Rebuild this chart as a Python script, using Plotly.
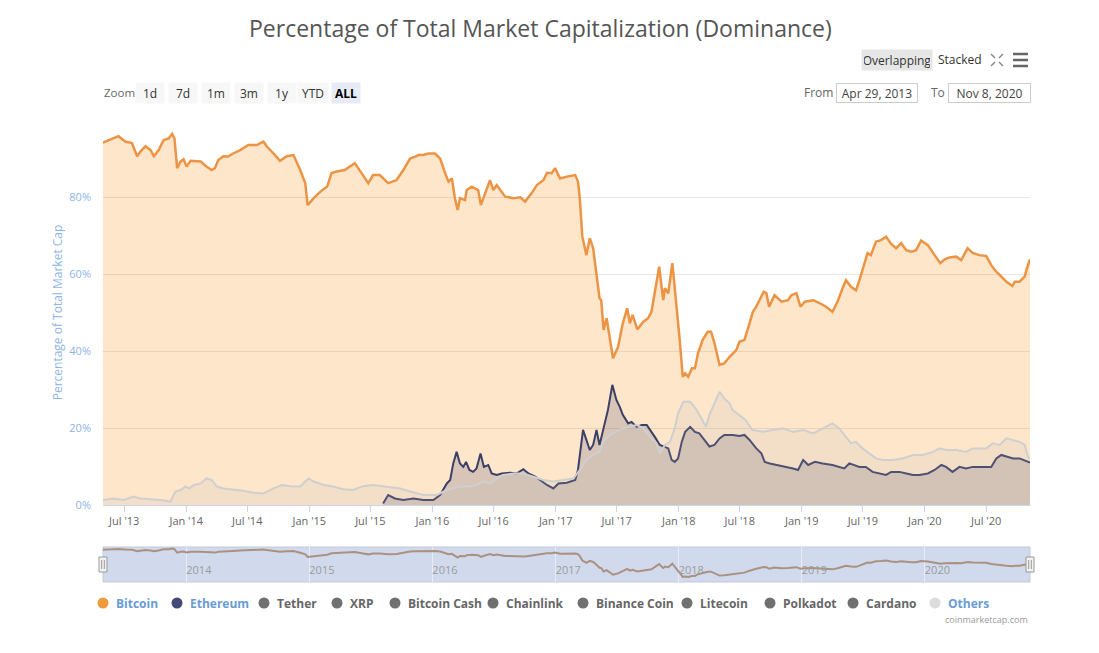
import plotly.graph_objects as go

# ---------------- data ----------------
btc_dates = ["2013-04-29","2013-05-30","2013-06-14","2013-07-04","2013-07-24","2013-08-08","2013-08-18","2013-09-02",
 "2013-09-17","2013-09-27","2013-10-11","2013-10-26","2013-11-10","2013-11-20","2013-11-27","2013-12-05","2013-12-15",
 "2013-12-24","2014-01-02","2014-01-14","2014-02-13","2014-03-02","2014-03-17","2014-03-27","2014-04-06","2014-04-21",
 "2014-05-05","2014-05-20","2014-06-10","2014-07-04","2014-07-29","2014-08-18","2014-08-28","2014-09-17","2014-10-06",
 "2014-10-26","2014-11-15","2014-12-05","2014-12-20","2014-12-27","2015-01-14","2015-02-03","2015-02-23","2015-03-08",
 "2015-03-23","2015-04-16","2015-05-16","2015-06-05","2015-06-25","2015-07-09","2015-07-29","2015-08-23","2015-09-17",
 "2015-10-07","2015-10-27","2015-11-11","2015-11-21","2015-12-05","2015-12-20","2016-01-09","2016-01-24","2016-02-08",
 "2016-02-18","2016-02-28","2016-03-08","2016-03-16","2016-03-23","2016-04-07","2016-04-12","2016-04-27","2016-05-16",
 "2016-05-24","2016-06-05","2016-06-20","2016-06-30","2016-07-10","2016-08-04","2016-08-29","2016-09-18","2016-10-02",
 "2016-10-22","2016-11-06","2016-11-26","2016-12-06","2016-12-20","2016-12-30","2017-01-14","2017-02-03","2017-02-28",
 "2017-03-08","2017-03-13","2017-03-21","2017-04-02","2017-04-12","2017-04-22","2017-05-02","2017-05-11","2017-05-16",
 "2017-05-23","2017-06-01","2017-06-10","2017-06-20","2017-07-05","2017-07-19","2017-08-01","2017-08-09","2017-08-17",
 "2017-08-31","2017-09-18","2017-10-02","2017-10-12","2017-10-27","2017-11-04","2017-11-11","2017-11-16","2017-11-21",
 "2017-12-01","2017-12-13","2017-12-20","2018-01-03","2018-01-13","2018-01-20","2018-01-29","2018-02-09","2018-02-18",
 "2018-02-27","2018-03-13","2018-03-28","2018-04-07","2018-04-17","2018-05-02","2018-05-16","2018-06-01","2018-06-21",
 "2018-06-30","2018-07-15","2018-07-30","2018-08-09","2018-08-19","2018-08-29","2018-09-10","2018-09-18","2018-09-26",
 "2018-10-12","2018-11-02","2018-11-21","2018-12-01","2018-12-16","2018-12-28","2019-01-10","2019-02-04","2019-02-24",
 "2019-03-14","2019-04-02","2019-04-17","2019-05-02","2019-05-12","2019-05-27","2019-06-11","2019-06-21","2019-07-05",
 "2019-07-15","2019-07-25","2019-08-09","2019-08-24","2019-09-08","2019-09-23","2019-10-08","2019-10-23","2019-11-07",
 "2019-11-22","2019-12-06","2019-12-21","2020-01-10","2020-01-30","2020-02-16","2020-02-29","2020-03-14","2020-04-03",
 "2020-04-18","2020-05-07","2020-05-22","2020-06-11","2020-07-01","2020-07-16","2020-07-31","2020-08-15","2020-08-30",
 "2020-09-17","2020-09-24","2020-10-08","2020-10-23","2020-10-30","2020-11-05","2020-11-08"]
btc_vals = [94.1,95.2,95.8,94.4,94.0,90.6,91.8,93.2,92.2,90.6,92.2,94.8,95.2,96.4,95.2,87.5,89.2,89.8,87.9,89.4,89.2,
 87.9,87.0,87.5,89.6,90.6,90.5,91.3,92.2,93.5,93.5,94.4,93.1,91.3,89.4,90.6,90.9,87.0,83.6,77.9,79.7,81.4,82.7,86.2,
 86.6,87.0,88.8,86.2,83.6,85.7,85.7,83.6,84.4,87.0,90.0,90.5,90.9,90.9,91.3,91.3,90.0,86.2,84.0,84.8,79.7,76.6,79.7,
 79.2,81.8,82.7,81.8,77.9,81.0,84.4,81.8,83.1,80.1,79.7,79.9,78.8,81.0,83.1,84.4,86.3,86.2,87.5,84.8,85.3,85.7,84.0,
 80.1,69.7,64.9,69.3,66.7,60.2,53.7,53.2,45.5,48.5,43.7,38.1,41.1,47.2,51.1,47.2,49.4,45.6,47.6,48.5,50.2,58.0,61.9,
 56.7,53.2,56.3,55.0,62.8,56.7,43.7,33.3,34.2,33.3,35.5,35.5,39.4,42.9,45.0,45.0,42.0,36.4,36.8,38.5,40.3,42.4,42.9,
 47.2,50.2,51.5,53.2,55.4,55.0,51.5,54.5,52.8,53.2,54.5,55.0,51.5,52.8,53.2,52.4,51.5,50.2,52.8,56.3,58.4,56.7,55.8,
 58.4,62.3,65.4,64.9,68.4,68.8,69.7,67.8,66.7,68.0,66.2,65.8,66.2,68.7,67.5,64.9,62.8,63.8,64.3,64.5,63.6,66.7,65.5,
 64.9,64.7,62.3,60.6,59.3,58.0,56.9,58.0,58.0,59.3,61.5,63.5,63.8]

eth_dates = ["2015-08-08","2015-08-23","2015-09-12","2015-10-07","2015-11-06","2015-12-05","2016-01-04","2016-01-24",
 "2016-02-13","2016-02-23","2016-03-03","2016-03-13","2016-03-23","2016-04-02","2016-04-10","2016-04-20","2016-05-01",
 "2016-05-11","2016-05-23","2016-06-02","2016-06-15","2016-06-25","2016-07-10","2016-07-25","2016-08-19","2016-09-08",
 "2016-09-27","2016-10-12","2016-11-01","2016-11-21","2016-12-06","2016-12-25","2017-01-09","2017-02-03","2017-02-28",
 "2017-03-08","2017-03-18","2017-03-23","2017-04-02","2017-04-12","2017-04-22","2017-05-02","2017-05-11","2017-05-21",
 "2017-06-05","2017-06-18","2017-06-30","2017-07-10","2017-07-19","2017-08-04","2017-08-14","2017-08-29","2017-09-13",
 "2017-09-28","2017-10-07","2017-10-22","2017-11-06","2017-11-16","2017-12-01","2017-12-11","2017-12-20","2017-12-30",
 "2018-01-10","2018-01-20","2018-02-04","2018-02-18","2018-03-03","2018-03-18","2018-04-02","2018-04-17","2018-05-02",
 "2018-05-16","2018-06-10","2018-06-30","2018-07-15","2018-07-30","2018-08-19","2018-09-03","2018-09-13","2018-09-28",
 "2018-10-22","2018-11-16","2018-12-06","2018-12-21","2019-01-05","2019-01-20","2019-02-09","2019-03-04","2019-04-02",
 "2019-05-07","2019-05-22","2019-06-21","2019-07-10","2019-07-30","2019-08-19","2019-09-08","2019-09-23","2019-10-18",
 "2019-11-07","2019-11-27","2019-12-16","2020-01-10","2020-01-30","2020-02-19","2020-03-04","2020-03-23","2020-04-13",
 "2020-05-02","2020-05-22","2020-06-21","2020-07-16","2020-07-31","2020-08-15","2020-08-30","2020-09-19","2020-10-08",
 "2020-11-02","2020-11-08"]
eth_vals = [0.4,2.6,1.7,1.3,1.7,1.3,1.3,2.6,5.6,6.5,10.8,13.8,10.8,9.9,11.2,9.1,8.6,9.5,13.4,9.9,10.4,8.2,7.8,8.2,8.4,
 8.2,9.3,8.2,7.4,6.1,5.2,4.3,5.6,5.8,6.5,9.1,16.4,19.5,16.9,14.3,15.6,19.5,15.6,19.5,24.7,31.2,27.3,25.5,23.4,21.2,
 21.6,20.3,20.8,20.8,19.5,17.7,15.6,15.2,14.7,11.7,11.2,12.1,16.4,19.0,20.3,19.0,18.6,16.9,15.2,15.6,17.3,18.2,18.2,
 17.9,18.2,16.9,14.7,13.4,11.2,10.8,10.4,9.9,9.5,9.1,11.7,10.4,11.2,10.8,10.4,9.5,10.8,9.9,9.9,8.6,8.2,7.8,8.6,8.6,
 8.2,7.8,7.8,8.2,9.1,10.4,9.9,8.6,9.9,9.5,9.9,9.9,9.9,12.1,13.0,12.6,12.1,12.1,11.2,11.0]

oth_dates = ["2013-04-29","2013-05-30","2013-06-30","2013-07-28","2013-08-18","2013-09-17","2013-10-16","2013-11-15",
 "2013-11-30","2013-12-15","2013-12-30","2014-01-09","2014-01-24","2014-02-13","2014-03-02","2014-03-17","2014-04-02",
 "2014-04-21","2014-05-20","2014-06-19","2014-07-19","2014-08-18","2014-09-17","2014-10-12","2014-11-05","2014-12-05",
 "2014-12-20","2014-12-30","2015-01-14","2015-02-13","2015-03-13","2015-04-11","2015-05-11","2015-06-10","2015-07-09",
 "2015-08-18","2015-09-27","2015-10-27","2015-12-05","2016-01-14","2016-02-13","2016-03-23","2016-04-22","2016-05-11",
 "2016-05-31","2016-06-20","2016-07-10","2016-07-29","2016-08-29","2016-09-27","2016-10-27","2016-11-26","2016-12-25",
 "2017-01-24","2017-02-23","2017-03-13","2017-04-02","2017-04-22","2017-05-11","2017-05-21","2017-06-10","2017-06-30",
 "2017-07-19","2017-08-09","2017-08-29","2017-09-18","2017-10-07","2017-10-27","2017-11-06","2017-11-21","2017-12-06",
 "2017-12-20","2017-12-30","2018-01-15","2018-02-04","2018-02-23","2018-03-13","2018-03-23","2018-04-02","2018-04-17",
 "2018-05-02","2018-05-16","2018-06-01","2018-06-09","2018-06-29","2018-07-18","2018-08-07","2018-09-08","2018-10-07",
 "2018-11-06","2018-12-06","2019-01-05","2019-02-04","2019-03-04","2019-04-02","2019-04-22","2019-05-12","2019-05-27",
 "2019-06-11","2019-06-30","2019-07-20","2019-08-09","2019-08-29","2019-09-28","2019-10-27","2019-11-27","2019-12-26",
 "2020-01-25","2020-02-14","2020-03-04","2020-04-03","2020-05-02","2020-05-22","2020-06-11","2020-07-01","2020-07-21",
 "2020-08-10","2020-08-30","2020-09-19","2020-10-08","2020-10-23","2020-11-02","2020-11-08"]
oth_vals = [1.3,1.7,1.3,2.2,1.7,1.5,1.3,0.9,3.5,3.9,4.8,4.3,5.2,5.6,6.9,6.5,4.8,4.3,4.1,3.7,3.2,3.0,4.3,5.2,4.9,4.8,
 6.1,6.9,6.1,5.2,4.8,4.1,3.9,4.9,5.2,4.8,4.3,3.5,2.6,2.6,3.9,4.8,4.8,5.2,6.1,5.6,6.9,7.8,8.2,8.2,7.4,6.5,6.1,6.5,6.9,
 9.1,11.7,13.0,13.8,16.4,18.2,19.0,19.9,20.3,20.8,19.9,17.7,16.0,13.4,15.6,16.4,19.9,23.8,26.8,26.8,24.7,21.6,20.3,
 23.4,26.4,29.4,27.7,26.4,24.7,23.4,22.1,19.5,19.0,19.5,19.9,19.0,19.5,18.6,19.9,21.2,19.9,17.7,16.0,16.4,14.7,13.4,
 12.1,11.7,11.7,12.1,13.0,13.0,13.8,14.7,14.3,14.3,13.8,14.7,14.7,14.7,16.0,15.6,17.3,16.9,16.4,15.6,12.6,12.0]

x_tick_vals = ["2013-07-01","2014-01-01","2014-07-01","2015-01-01","2015-07-01","2016-01-01","2016-07-01","2017-01-01",
 "2017-07-01","2018-01-01","2018-07-01","2019-01-01","2019-07-01","2020-01-01","2020-07-01"]
x_tick_text = ["Jul '13","Jan '14","Jul '14","Jan '15","Jul '15","Jan '16","Jul '16","Jan '17","Jul '17","Jan '18",
 "Jul '18","Jan '19","Jul '19","Jan '20","Jul '20"]
y_tick_vals = [0, 20, 40, 60, 80, 100]
y_tick_text = ["0%", "20%", "40%", "60%", "80%", ""]
nav_tick_vals = ["2014-01-01","2015-01-01","2016-01-01","2017-01-01","2018-01-01","2019-01-01","2020-01-01"]
nav_tick_text = ["2014","2015","2016","2017","2018","2019","2020"]

legend_names = ["Bitcoin","Ethereum","Tether","XRP","Bitcoin Cash","Chainlink","Binance Coin","Litecoin",
 "Polkadot","Cardano","Others"]
legend_dot_colors = ["#f09a3e","#434a7a","#707070","#707070","#707070","#707070","#707070","#707070","#707070",
 "#707070","#dcdcdc"]
legend_text_colors = ["#6a9bd6","#6a9bd6","#666666","#666666","#666666","#666666","#666666","#666666","#666666",
 "#666666","#6a9bd6"]

x_start, x_end = "2013-04-29", "2020-11-08"

# ---------------- layout helpers (page pixel -> paper) ----------------
OFF = 8                      # body margin of the html page
W, H = 1099 - 2 * OFF, 653 - 2 * OFF
L, R = 103, 1030             # plot left / right (page px)
T, B = 120, 582              # top of main plot, bottom of navigator (page px)
def px(x): return (x - L) / (R - L)
def py(y): return (B - y) / (B - T)

FONT = "Open Sans, Lato, DejaVu Sans, sans-serif"

fig = go.Figure()
fig.add_trace(go.Scatter(x=btc_dates, y=btc_vals, mode="lines", name="Bitcoin",
                         line=dict(color="#ec9444", width=2.5), fill="tozeroy",
                         fillcolor="rgba(247,147,26,0.23)", hoverinfo="x+y"))
fig.add_trace(go.Scatter(x=eth_dates, y=eth_vals, mode="lines", name="Ethereum",
                         line=dict(color="#3c3f66", width=2), fill="tozeroy",
                         fillcolor="rgba(60,60,100,0.19)", hoverinfo="x+y"))
fig.add_trace(go.Scatter(x=oth_dates, y=oth_vals, mode="lines", name="Others",
                         line=dict(color="#cfcfcf", width=2), fill="tozeroy",
                         fillcolor="rgba(185,185,185,0.15)", hoverinfo="x+y"))
# navigator series
fig.add_trace(go.Scatter(x=btc_dates, y=btc_vals, mode="lines", name="nav", xaxis="x2", yaxis="y2",
                         line=dict(color="#aa9180", width=2), hoverinfo="skip"))

fig.update_layout(
    width=W, height=H, showlegend=False,
    margin=dict(l=L - OFF, r=(W + OFF) - R, t=T - OFF, b=(H + OFF) - B, pad=0),
    plot_bgcolor="rgba(0,0,0,0)", paper_bgcolor="white",
    font=dict(family=FONT, color="#666666"),
    xaxis=dict(domain=[0, 1], anchor="y", range=[x_start, x_end], tickvals=x_tick_vals, ticktext=x_tick_text,
               showgrid=False, zeroline=False, showline=True, linecolor="#ccd6eb", linewidth=1,
               ticks="outside", ticklen=6, tickcolor="#ccd6eb", tickfont=dict(size=11, color="#666666")),
    yaxis=dict(domain=[py(505), 1], anchor="x", range=[0, 100], tickvals=y_tick_vals, ticktext=y_tick_text,
               showgrid=True, gridcolor="#e6e6e6", zeroline=False, showline=False,
               tickfont=dict(size=11, color="#8eb5e6"), ticks="", ticklabelstandoff=11,
               title=dict(text="Percentage of Total Market Cap", font=dict(size=12, color="#8eb5e6"), standoff=4)),
    xaxis2=dict(domain=[0, 1], anchor="y2", range=[x_start, x_end], tickvals=nav_tick_vals, ticktext=nav_tick_text,
                showgrid=True, gridcolor="#e8ecf5", gridwidth=1, zeroline=False, showline=False, ticks="",
                ticklabelposition="inside right", tickfont=dict(size=11, color="#9a9a9a")),
    yaxis2=dict(domain=[0, py(547)], anchor="x2", range=[22, 100], showgrid=False, zeroline=False,
                showticklabels=False, showline=False),
)

shapes = []
# navigator mask
shapes.append(dict(type="rect", xref="paper", yref="paper", x0=0, x1=1, y0=0, y1=py(547),
                   fillcolor="rgba(102,133,194,0.3)", line=dict(color="#c4c9d6", width=1), layer="below"))
# navigator handles
for hx in (103, 1030):
    shapes.append(dict(type="rect", xref="paper", yref="paper", x0=px(hx - 4), x1=px(hx + 4),
                       y0=py(572), y1=py(557), fillcolor="#f2f2f2", line=dict(color="#999999", width=1)))
    for dx in (-1.3, 1.3):
        shapes.append(dict(type="line", xref="paper", yref="paper", x0=px(hx + dx), x1=px(hx + dx),
                           y0=py(569), y1=py(560), line=dict(color="#999999", width=1)))
# hamburger icon
for yy in (54, 60, 66):
    shapes.append(dict(type="line", xref="paper", yref="paper", x0=px(1013), x1=px(1028), y0=py(yy), y1=py(yy),
                       line=dict(color="#666666", width=2.5)))
# fullscreen icon (four corner arrows)
for (cx, cy, dx, dy) in [(991, 54, 1, 1), (1003, 54, -1, 1), (991, 66, 1, -1), (1003, 66, -1, -1)]:
    shapes.append(dict(type="line", xref="paper", yref="paper", x0=px(cx), x1=px(cx + 4 * dx),
                       y0=py(cy), y1=py(cy + 4 * dy), line=dict(color="#888888", width=1.5)))
# legend dots
leg_x = [103, 177, 264, 337, 395, 493, 583, 687, 770, 853, 935]
for lx, dc in zip(leg_x, legend_dot_colors):
    shapes.append(dict(type="circle", xref="paper", yref="paper", x0=px(lx - 5.5), x1=px(lx + 5.5),
                       y0=py(603 + 5.5), y1=py(603 - 5.5), fillcolor=dc, line=dict(width=0)))
fig.update_layout(shapes=shapes)

ann = []
def text(x, y, s, size=12, color="#666666", xanchor="center", **kw):
    ann.append(dict(x=px(x), y=py(y), xref="paper", yref="paper", text=s, showarrow=False, xanchor=xanchor,
                    yanchor="middle", font=dict(size=size, color=color, family=FONT), **kw))

# title
text(540, 28, "Percentage of Total Market Capitalization (Dominance)", size=23, color="#555555")
# top-right buttons
text(897, 60, "Overlapping", size=12, color="#333333", bgcolor="#e6e6e6", width=66, height=16, borderpad=2)
text(960, 60, "Stacked", size=12, color="#333333")
# zoom range selector
text(102, 93, "Zoom", size=11.5, color="#666666", xanchor="left")
for cx, lab in [(150, "1d"), (183, "7d"), (216, "1m"), (249, "3m"), (282, "1y"), (313, "YTD")]:
    text(cx, 93, lab, size=12, color="#333333", bgcolor="#f7f7f7", width=24 if lab != "YTD" else 26,
         height=16, borderpad=2)
text(346, 93, "<b>ALL</b>", size=12, color="#000000", bgcolor="#e6ebf5", width=24, height=16, borderpad=2)
# from / to
text(802, 93, "From", size=12, color="#666666", xanchor="left")
text(877, 93, "Apr 29, 2013", size=12, color="#444444", bordercolor="#cccccc", borderwidth=1, width=78,
     height=16, borderpad=1, bgcolor="white")
text(929, 93, "To", size=12, color="#666666", xanchor="left")
text(989.5, 93, "Nov 8, 2020", size=12, color="#444444", bordercolor="#cccccc", borderwidth=1, width=79,
     height=16, borderpad=1, bgcolor="white")
# legend labels
for lx, name, tc in zip(leg_x, legend_names, legend_text_colors):
    text(lx + 11, 603, f"<b>{name}</b>", size=12, color=tc, xanchor="left")
# credit
text(1030, 619, "coinmarketcap.com", size=9, color="#999999", xanchor="right")

fig.update_layout(annotations=ann)
fig.write_html("out.html")
